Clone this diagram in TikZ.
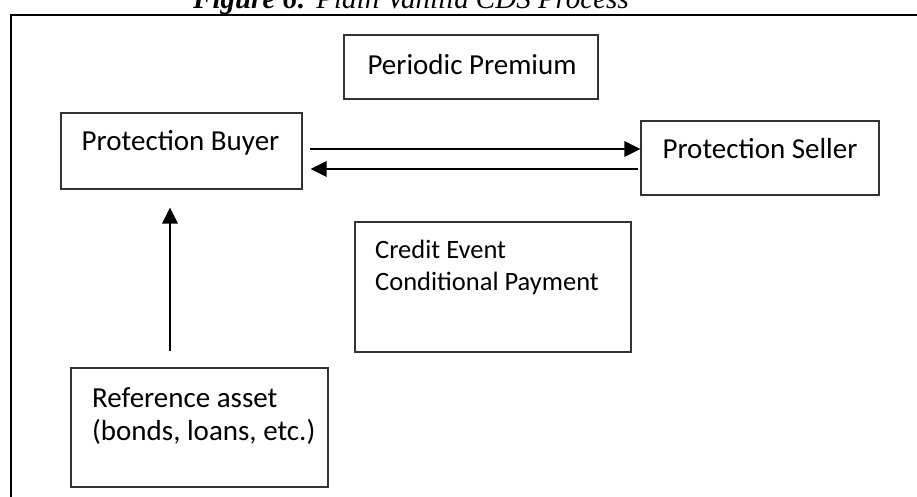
\documentclass[tikz,border=0pt]{standalone}
\usepackage{fontspec}
\setmainfont{Carlito}
\newfontfamily\titlefont{Liberation Serif}
\usetikzlibrary{arrows.meta,calc}

\tikzset{
  boxnode/.style={draw=black!80, line width=1.1pt, fill=white, inner sep=0pt},
  lbl/.style={inner sep=0pt, font=\fontsize{29}{35}\selectfont},
  smalllbl/.style={inner sep=0pt, font=\fontsize{26.5}{32}\selectfont},
  flow/.style={line width=2.9pt, -{Triangle[length=16pt,width=15pt]}},
}

\begin{document}
\begin{tikzpicture}[x=1pt, y=-1pt]
  \useasboundingbox (0,0) rectangle (917,497);

  % caption, partly above the page edge
  \node[anchor=base west, inner sep=0pt, font=\titlefont\fontsize{29}{35}\selectfont]
    (title) at (193,9) {\textbf{\textit{Figure 6:}}\textit{ Plain Vanilla CDS Process}};

  % outer frame
  \draw[line width=2.8pt] (11,600) -- (11,15) -- (1000,15);

  % boxes
  \node[boxnode, minimum width=254pt, minimum height=64pt] (premium) at (471,67) {};
  \node[boxnode, minimum width=241pt, minimum height=76pt] (buyer) at (181.5,151) {};
  \node[boxnode, minimum width=238pt, minimum height=74pt] (seller) at (760,158) {};
  \node[boxnode, minimum width=276pt, minimum height=130pt] (credit) at (493,287) {};
  \node[boxnode, minimum width=257pt, minimum height=119pt] (ref) at (199.5,427.5) {};

  % box texts
  \node[lbl, anchor=base] (premiumtxt) at (472,75) {Periodic Premium};
  \node[lbl, anchor=base] (buyertxt) at (180.5,151) {Protection Buyer};
  \node[lbl, anchor=base] (sellertxt) at (760,159) {Protection Seller};
  \node[smalllbl, anchor=base west] (credittxta) at (375,258) {Credit Event};
  \node[smalllbl, anchor=base west] (credittxtb) at (375,290) {Conditional Payment};
  \node[lbl, anchor=base west] (reftxta) at (92,407) {Reference asset};
  \node[lbl, anchor=base west] (reftxtb) at (92,440) {(bonds, loans, etc.)};

  % premium leg: buyer to seller
  \coordinate (a1) at ($(buyer.east)+(7,-2)$);
  \draw[flow] (a1) -- (a1 -| seller.west);
  % contingent leg: seller to buyer
  \coordinate (a2) at ($(seller.west)+(-2,11)$);
  \draw[flow] (a2) -- ($(a2 -| buyer.east)+(8,0)$);
  % reference asset up to the buyer
  \coordinate (vx) at (170,0);
  \draw[flow] ($(vx |- ref.north)+(0,-16)$) -- ($(vx |- buyer.south)+(0,18)$);
\end{tikzpicture}
\end{document}
